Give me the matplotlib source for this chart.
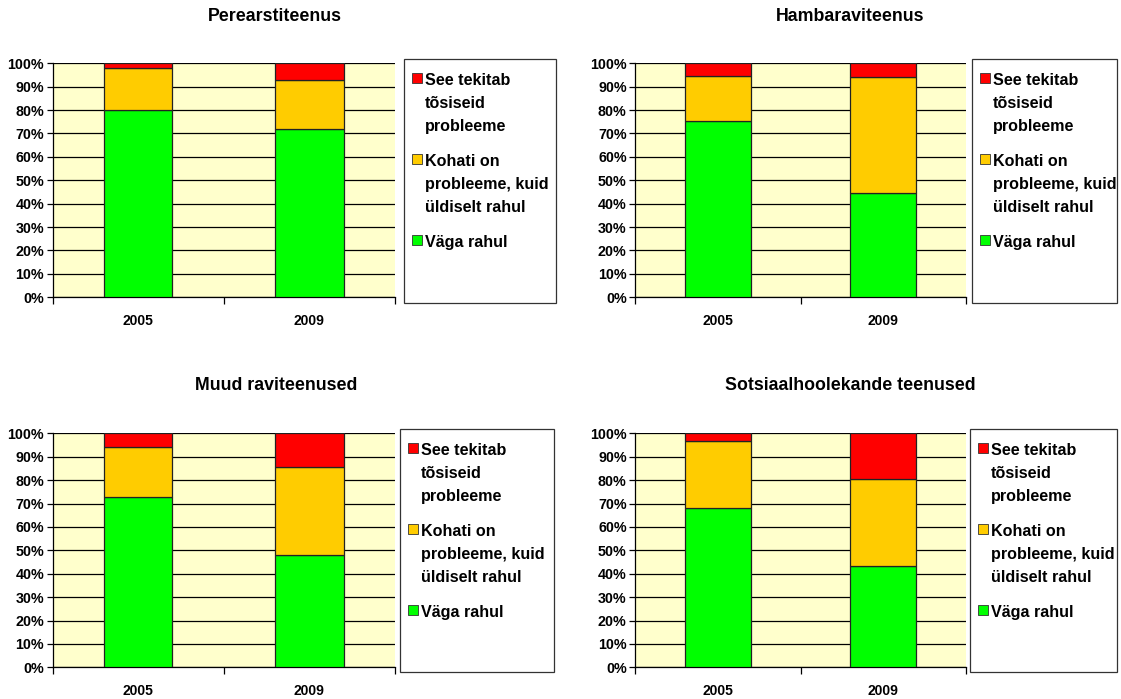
import matplotlib
matplotlib.use("Agg")
import matplotlib.pyplot as plt
from matplotlib.patches import Rectangle
import numpy as np

W, H = 1121, 699

years = ["2005", "2009"]
titles = ["Perearstiteenus", "Hambaraviteenus", "Muud raviteenused", "Sotsiaalhoolekande teenused"]
series_names = ["Väga rahul", "Kohati on\nprobleeme, kuid\nüldiselt rahul", "See tekitab\ntõsiseid\nprobleeme"]
series_colors = ["#00FF00", "#FFCC00", "#FF0000"]

# percentages per chart: [2005, 2009]
vaga_rahul = [[80, 72], [75.2, 44.4], [72.6, 47.9], [68.1, 43.3]]
kohati = [[18, 21], [19.4, 49.6], [21.4, 37.9], [28.6, 37.0]]
tosiseid = [[2, 7], [5.4, 6.0], [6.0, 14.2], [3.3, 19.7]]

FONT = ["Liberation Sans", "DejaVu Sans"]

fig = plt.figure(figsize=(W / 100, H / 100), dpi=100)
fig.patch.set_facecolor("white")

axes_px = [(52.5, 395, 63.3, 297.3), (635, 966, 63.3, 297.3),
           (52.5, 395, 433.3, 667.3), (635, 966, 433.3, 667.3)]
legend_px = [(404, 556, 59, 303), (972, 1117, 59, 303),
             (400, 554, 429, 672), (970, 1117, 429, 672)]
title_px = [(275, 16.5), (850, 16.5), (276, 386), (850, 386)]


def fx(x):
    return x / W


def fy(y):
    return 1 - y / H


for i in range(4):
    l, r, t, b = axes_px[i]
    ax = fig.add_axes([fx(l), fy(b), fx(r - l), (b - t) / H])
    ax.set_facecolor("#FFFFCC")
    x = np.arange(len(years))
    bottom = np.zeros(len(years))
    for vals, col in zip([vaga_rahul[i], kohati[i], tosiseid[i]], series_colors):
        v = np.array(vals, dtype=float)
        ax.bar(x, v, width=0.4, bottom=bottom, color=col, edgecolor="#222222",
               linewidth=0.9, zorder=3)
        bottom = bottom + v
    ax.set_xlim(-0.5, 1.5)
    ax.set_ylim(0, 100)
    ax.set_yticks(np.arange(0, 101, 10))
    ax.set_yticklabels([f"{v}%" for v in range(0, 101, 10)])
    ax.yaxis.grid(True, color="black", linewidth=0.9, zorder=1)
    ax.set_axisbelow(True)
    ax.set_xticks(x)
    ax.set_xticklabels(years)
    ax.set_xticks([-0.5, 0.5, 1.5], minor=True)
    ax.tick_params(axis="x", which="major", length=0, pad=12)
    ax.tick_params(axis="x", which="minor", length=5, width=0.9, direction="out")
    ax.tick_params(axis="y", length=4, width=0.9, direction="out", pad=2)
    for lab in ax.get_yticklabels():
        lab.set_fontfamily(FONT)
        lab.set_fontweight("bold")
        lab.set_fontsize(10.3)
    for lab in ax.get_xticklabels():
        lab.set_fontfamily(FONT)
        lab.set_fontweight("bold")
        lab.set_fontsize(10)
    ax.spines["top"].set_visible(False)
    ax.spines["right"].set_visible(False)
    ax.spines["left"].set_linewidth(0.9)
    ax.spines["bottom"].set_linewidth(0.9)

    tx, ty = title_px[i]
    fig.text(fx(tx), fy(ty), titles[i], ha="center", va="center",
             fontfamily=FONT, fontweight="bold", fontsize=12.8)

    ll, lr, lt, lb = legend_px[i]
    fig.patches.append(Rectangle((fx(ll), fy(lb)), fx(lr - ll), (lb - lt) / H,
                                 transform=fig.transFigure, facecolor="white",
                                 edgecolor="#333333", linewidth=0.9))
    base = lt + 26
    for name, col in zip(series_names[::-1], series_colors[::-1]):
        lines = name.split("\n")
        fig.patches.append(Rectangle((fx(ll + 8), fy(base - 2.5)), fx(9.5), 9.5 / H,
                                     transform=fig.transFigure, facecolor=col,
                                     edgecolor="#333333", linewidth=0.6))
        for k, line in enumerate(lines):
            fig.text(fx(ll + 21), fy(base + 23 * k), line, ha="left", va="baseline",
                     fontfamily=FONT, fontweight="bold", fontsize=11.6)
        base += 23 * (len(lines) - 1) + 35

fig.savefig("out.png", dpi=100, facecolor="white")
